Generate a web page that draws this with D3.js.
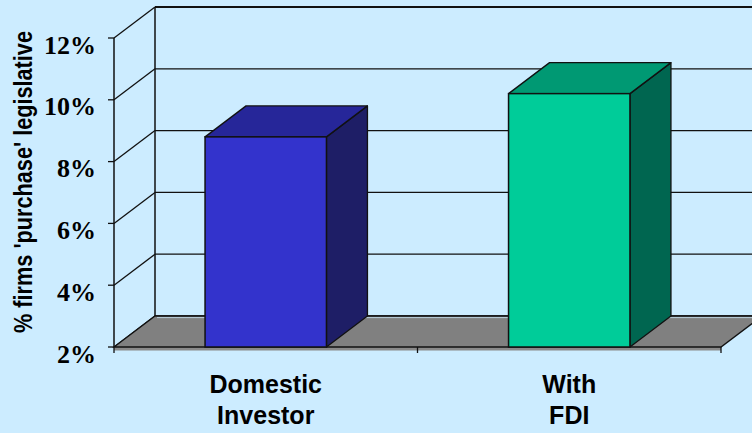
<!DOCTYPE html>
<html>
<head>
<meta charset="utf-8">
<script src="https://cdn.jsdelivr.net/npm/d3@7/dist/d3.min.js"></script>
<style>
  html, body { margin: 0; padding: 0; background: #CCECFF; }
  svg { display: block; }
</style>
</head>
<body>
<svg id="chart" width="752" height="433"></svg>
<script>
// Share of firms that "purchase" legislative influence, by ownership type
const categories = ["Domestic Investor", "With FDI"];
const categoryLines = [["Domestic", "Investor"], ["With", "FDI"]];
const shares = [0.088, 0.102];
const tickValues = [0.02, 0.04, 0.06, 0.08, 0.10, 0.12];
const axisTitle = "% firms 'purchase' legislative";

const frontColors = ["#3333CC", "#00CC99"];
const topColors = ["#262699", "#009973"];
const sideColors = ["#1E1E66", "#006650"];

const W = 752, H = 433;
const svg = d3.select("#chart");

// projection of the 3D box: depth offset of the back plane
const dx = 41, dy = -31;

const y = d3.scaleLinear().domain([0.02, 0.12]).range([347, 38]);
const x = d3.scaleBand().domain(categories).range([114, 721])
  .paddingInner(0.6).paddingOuter(0.3);
const x0 = 114, x1 = 721;

svg.append("rect").attr("width", W).attr("height", H).attr("fill", "#CCECFF");

const clip = svg.append("defs").append("clipPath").attr("id", "plotclip");
clip.append("rect").attr("width", W).attr("height", H);

const g = svg.append("g").attr("clip-path", "url(#plotclip)");

// back wall gridlines
g.selectAll("line.back").data(tickValues).join("line")
  .attr("class", "back")
  .attr("x1", x0 + dx).attr("x2", x1 + dx)
  .attr("y1", d => y(d) + dy).attr("y2", d => y(d) + dy)
  .attr("stroke", "#111")
  .attr("stroke-width", d => d === 0.12 ? 2 : 1.3);

// back wall left edge
g.append("line")
  .attr("x1", x0 + dx).attr("x2", x0 + dx)
  .attr("y1", y(0.12) + dy).attr("y2", y(0.02) + dy)
  .attr("stroke", "#111").attr("stroke-width", 1.5);

// side wall gridlines
g.selectAll("line.side").data(tickValues).join("line")
  .attr("class", "side")
  .attr("x1", x0).attr("y1", d => y(d))
  .attr("x2", x0 + dx).attr("y2", d => y(d) + dy)
  .attr("stroke", "#111").attr("stroke-width", 1.3);

// front edge of the side wall
g.append("line")
  .attr("x1", x0).attr("x2", x0)
  .attr("y1", y(0.12)).attr("y2", y(0.02))
  .attr("stroke", "#111").attr("stroke-width", 1.5);

// floor slab thickness
g.append("rect")
  .attr("x", x0).attr("y", y(0.02))
  .attr("width", x1 - x0).attr("height", 3.5)
  .attr("fill", "#8a8a8a");

// floor
const fy = y(0.02);
g.append("path")
  .attr("d", `M${x0},${fy}L${x1},${fy}L${x1 + dx},${fy + dy}L${x0 + dx},${fy + dy}Z`)
  .attr("fill", "#808080").attr("stroke", "#111").attr("stroke-width", 1.3);
g.append("line")
  .attr("x1", x0 + dx + 2).attr("x2", x1 + dx)
  .attr("y1", fy + dy + 1.6).attr("y2", fy + dy + 1.6)
  .attr("stroke", "#b9cfdc").attr("stroke-width", 1);

// bars
const bars = g.selectAll("g.bar").data(shares).join("g").attr("class", "bar");
bars.each(function (v, i) {
  const b = d3.select(this);
  const l = x(categories[i]), r = l + x.bandwidth();
  const t = y(v), base = y(0.02);
  b.append("path")
    .attr("d", `M${r},${base}L${r + dx},${base + dy}L${r + dx},${t + dy}L${r},${t}Z`)
    .attr("fill", sideColors[i]).attr("stroke", "#111").attr("stroke-width", 1.3)
    .attr("stroke-linejoin", "round");
  b.append("path")
    .attr("d", `M${l},${t}L${l + dx},${t + dy}L${r + dx},${t + dy}L${r},${t}Z`)
    .attr("fill", topColors[i]).attr("stroke", "#111").attr("stroke-width", 1.3)
    .attr("stroke-linejoin", "round");
  b.append("rect")
    .attr("x", l).attr("y", t).attr("width", r - l).attr("height", base - t)
    .attr("fill", frontColors[i]).attr("stroke", "#111").attr("stroke-width", 1.5);
});

// value axis ticks and labels
svg.selectAll("line.ytick").data(tickValues).join("line")
  .attr("class", "ytick")
  .attr("x1", x0 - 6).attr("x2", x0)
  .attr("y1", d => y(d)).attr("y2", d => y(d))
  .attr("stroke", "#111").attr("stroke-width", 1.3);

const fmt = d3.format(".0%");
svg.selectAll("text.ylab").data(tickValues).join("text")
  .attr("class", "ylab")
  .attr("x", 96).attr("y", d => y(d) + 15.5)
  .attr("text-anchor", "end")
  .attr("font-family", "'Liberation Serif', 'Times New Roman', serif")
  .attr("font-weight", "bold").attr("font-size", 26)
  .attr("fill", "#000")
  .text(d => fmt(d));

// category axis ticks
const catEdges = [x0, (x0 + x1) / 2, x1];
svg.selectAll("line.xtick").data(catEdges).join("line")
  .attr("class", "xtick")
  .attr("x1", d => d).attr("x2", d => d)
  .attr("y1", fy).attr("y2", fy + 6)
  .attr("stroke", "#111").attr("stroke-width", 1.3);

// category labels
svg.selectAll("text.xlab").data(categories).join("text")
  .attr("class", "xlab")
  .attr("font-family", "'Liberation Sans', Arial, sans-serif")
  .attr("font-weight", "bold").attr("font-size", 25)
  .attr("text-anchor", "middle")
  .attr("fill", "#000")
  .each(function (c, i) {
    const cx = x(c) + x.bandwidth() / 2;
    d3.select(this).selectAll("tspan").data(categoryLines[i]).join("tspan")
      .attr("x", cx)
      .attr("y", (d, j) => 393 + j * 31)
      .text(d => d);
  });

// value axis title, condensed along its run to fit the wall height
svg.append("text")
  .attr("transform", "translate(32,182) rotate(-90) scale(0.868,1)")
  .attr("text-anchor", "middle")
  .attr("font-family", "'Liberation Sans', Arial, sans-serif")
  .attr("font-weight", "bold").attr("font-size", 25)
  .attr("fill", "#000")
  .text(axisTitle);
</script>
</body>
</html>
